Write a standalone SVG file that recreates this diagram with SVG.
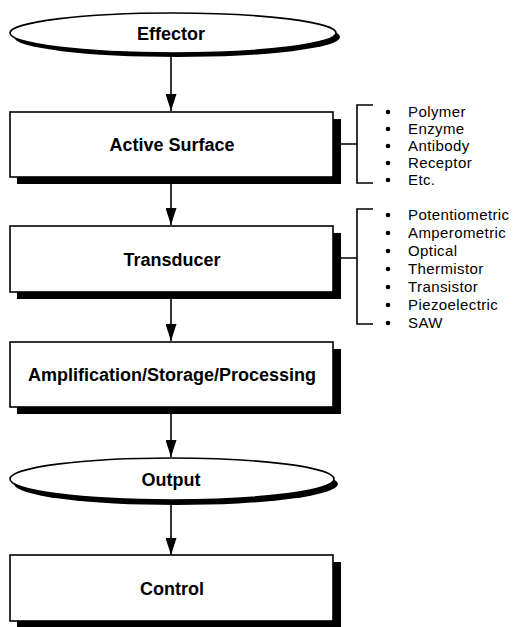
<svg xmlns="http://www.w3.org/2000/svg" width="513" height="627" viewBox="0 0 513 627">
<defs>
<style>
.box{fill:#fff;stroke:#000;stroke-width:1.6}
.sh{fill:#000}
.lbl{font-family:"Liberation Sans",Arial,sans-serif;font-weight:bold;font-size:18px;text-anchor:middle;fill:#000}
.item{font-family:"Liberation Sans",Arial,sans-serif;font-size:15px;letter-spacing:0.4px;fill:#000}
.ln{stroke:#000;stroke-width:1.6;fill:none}
.bul{fill:#000}
</style>
<marker id="ah" markerUnits="userSpaceOnUse" markerWidth="17" markerHeight="11" refX="17" refY="5.5" viewBox="0 0 17 11" orient="auto">
<path d="M0,0 L17,5.5 L0,11 Z" fill="#000"/>
</marker>
</defs>
<rect width="513" height="627" fill="#fff"/>

<g id="connectors">
<line class="ln" x1="171" y1="56" x2="171" y2="111" marker-end="url(#ah)"/>
<line class="ln" x1="171" y1="184" x2="171" y2="225" marker-end="url(#ah)"/>
<line class="ln" x1="171" y1="299" x2="171" y2="341" marker-end="url(#ah)"/>
<line class="ln" x1="171" y1="414" x2="171" y2="457" marker-end="url(#ah)"/>
<line class="ln" x1="171" y1="505" x2="171" y2="555" marker-end="url(#ah)"/>
<path class="ln" d="M340,144 H357 M373,105 H357 V183 H373"/>
<path class="ln" d="M340,258 H357 M373,209 H357 V324 H373"/>
</g>

<g id="effector">
<ellipse class="sh" cx="177" cy="37" rx="163" ry="20"/>
<ellipse class="box" cx="173" cy="33" rx="163" ry="20"/>
<text class="lbl" x="171" y="40">Effector</text>
</g>

<g id="active-surface">
<rect class="sh" x="17" y="119" width="324" height="65"/>
<rect class="box" x="10" y="112" width="323" height="65"/>
<text class="lbl" x="172" y="151">Active Surface</text>
</g>

<g id="active-surface-list">
<circle class="bul" cx="388" cy="112" r="2.3"/><text class="item" x="408" y="117">Polymer</text>
<circle class="bul" cx="388" cy="129" r="2.3"/><text class="item" x="408" y="134">Enzyme</text>
<circle class="bul" cx="388" cy="146" r="2.3"/><text class="item" x="408" y="151">Antibody</text>
<circle class="bul" cx="388" cy="163" r="2.3"/><text class="item" x="408" y="168">Receptor</text>
<circle class="bul" cx="388" cy="180" r="2.3"/><text class="item" x="408" y="185">Etc.</text>
</g>

<g id="transducer">
<rect class="sh" x="17" y="233" width="324" height="66"/>
<rect class="box" x="10" y="226" width="323" height="66"/>
<text class="lbl" x="172" y="266">Transducer</text>
</g>

<g id="transducer-list">
<circle class="bul" cx="388" cy="215" r="2.3"/><text class="item" x="408" y="220">Potentiometric</text>
<circle class="bul" cx="388" cy="233" r="2.3"/><text class="item" x="408" y="238">Amperometric</text>
<circle class="bul" cx="388" cy="251" r="2.3"/><text class="item" x="408" y="256">Optical</text>
<circle class="bul" cx="388" cy="269" r="2.3"/><text class="item" x="408" y="274">Thermistor</text>
<circle class="bul" cx="388" cy="287" r="2.3"/><text class="item" x="408" y="292">Transistor</text>
<circle class="bul" cx="388" cy="305" r="2.3"/><text class="item" x="408" y="310">Piezoelectric</text>
<circle class="bul" cx="388" cy="323" r="2.3"/><text class="item" x="408" y="328">SAW</text>
</g>

<g id="amplification">
<rect class="sh" x="17" y="349" width="324" height="65"/>
<rect class="box" x="10" y="342" width="323" height="65"/>
<text class="lbl" x="172" y="381">Amplification/Storage/Processing</text>
</g>

<g id="output">
<ellipse class="sh" cx="176" cy="484" rx="162" ry="21"/>
<ellipse class="box" cx="172" cy="479" rx="162" ry="21"/>
<text class="lbl" x="171" y="486">Output</text>
</g>

<g id="control">
<rect class="sh" x="17" y="562" width="324" height="66"/>
<rect class="box" x="10" y="555" width="323" height="66"/>
<text class="lbl" x="172" y="595">Control</text>
</g>
</svg>
